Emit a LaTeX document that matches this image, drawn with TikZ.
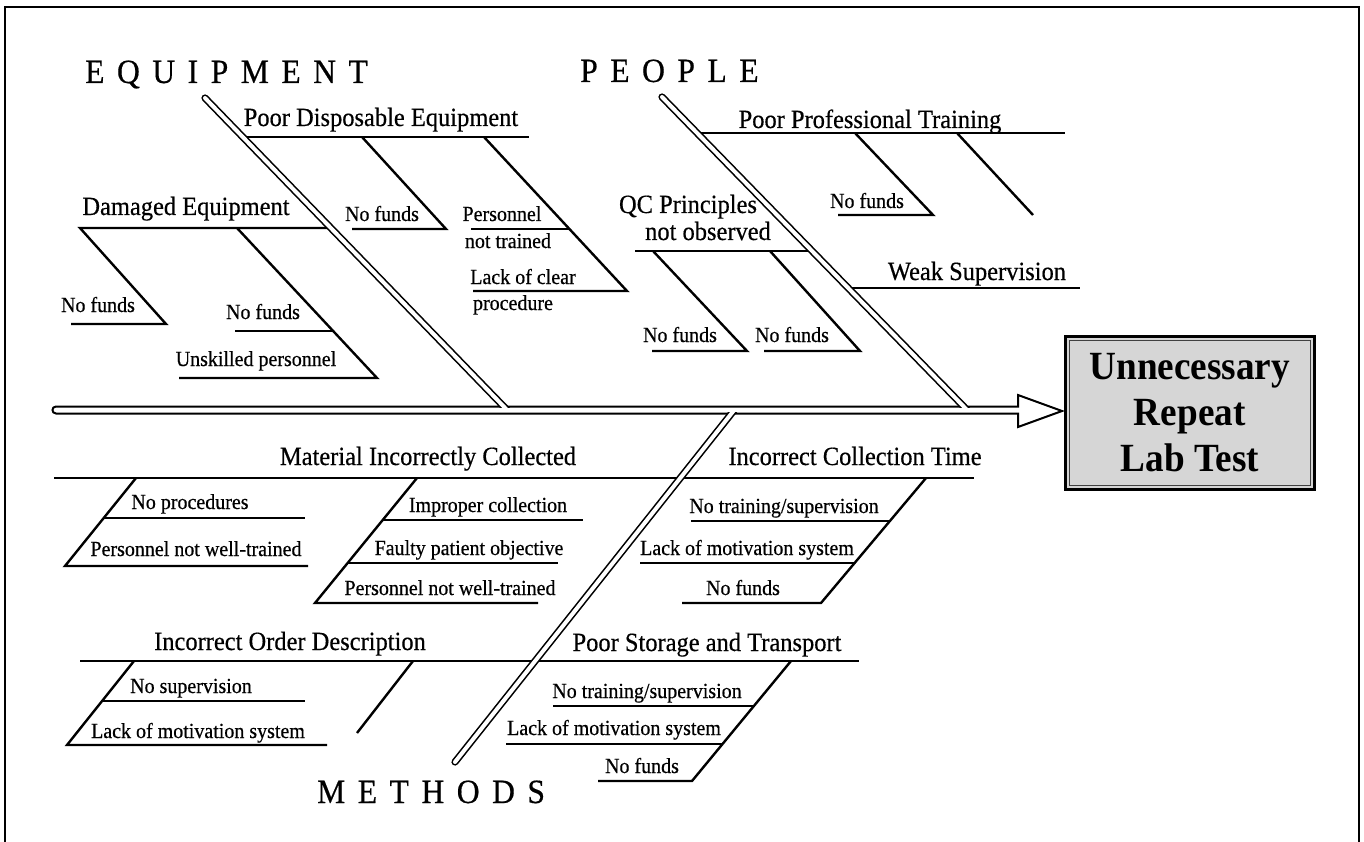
\documentclass[tikz,border=0pt]{standalone}
\usepackage{fontspec}
\setmainfont{Liberation Serif}[FakeStretch=0.93, UprightFeatures={FakeBold=0.5}]
\newcommand\lsp{\kern12.5pt}
\begin{document}
\begin{tikzpicture}[x=1pt,y=-1pt,
  bone/.style={draw, line width=1.6pt, double=white, double distance=4pt, line cap=round},
  twig/.style={line width=2.4pt},
  cat/.style={font=\fontsize{26.3}{31}\selectfont, inner sep=0pt, anchor=base},
  sub/.style={font=\fontsize{21.5}{26}\selectfont, inner sep=0pt, anchor=base},
  big/.style={font=\fontsize{34}{40}\selectfont, inner sep=0pt, anchor=base west}]
\useasboundingbox (0,0) rectangle (1364,842);

% frame
\draw[line width=2.5pt] (5,842) -- (5,7) -- (1359,7) -- (1359,842);

% --- equipment branches
\draw[twig] (243,137) -- (529,137);
\draw[twig] (362,137) -- (446,229) -- (352,229);
\draw[twig] (484,137) -- (627,291) -- (473,291);
\draw[twig] (471,229) -- (569,229);
\draw[twig] (331,228) -- (80,228) -- (166,324) -- (71,324);
\draw[twig] (237,228) -- (377,378) -- (179,378);
\draw[twig] (235,331) -- (333,331);

% --- people branches
\draw[twig] (697,133) -- (1065,133);
\draw[twig] (855,133) -- (933,215) -- (838,215);
\draw[twig] (957,133) -- (1033,215);
\draw[twig] (635,251) -- (812,251);
\draw[twig] (653,251) -- (747,351) -- (652,351);
\draw[twig] (770,251) -- (860,351) -- (764,351);
\draw[twig] (848,288) -- (1080,288);

% --- methods branches
\draw[twig] (54,478) -- (974,478);
\draw[twig] (136,478) -- (65,566) -- (308,566);
\draw[twig] (104,518) -- (305,518);
\draw[twig] (417,478) -- (315,603) -- (538,603);
\draw[twig] (383,520) -- (583,520);
\draw[twig] (348,563) -- (558,563);
\draw[twig] (926,478) -- (821,603) -- (682,603);
\draw[twig] (890,521) -- (691,521);
\draw[twig] (855,563) -- (640,563);
\draw[twig] (80,661) -- (859,661);
\draw[twig] (134,661) -- (67,745) -- (327,745);
\draw[twig] (102,701) -- (305,701);
\draw[twig] (413,661) -- (357,733);
\draw[twig] (791,661) -- (692,781) -- (598,781);
\draw[twig] (754,706) -- (553,706);
\draw[twig] (722,744) -- (506,744);

% --- spine with hollow arrow head
\draw[line width=2pt, fill=white, line join=miter]
  (1018,406.5) -- (1018,395) -- (1062,411) -- (1018,427) -- (1018,413.5)
  -- (56,413.5) .. controls (51.3,413.5) and (51.3,406.5) .. (56,406.5) -- cycle;

% --- main bones
\begin{scope}
  \clip (0,0) rectangle (1364,410);
  \draw[bone] (205,98) -- (510,413);
  \draw[bone] (662,97) -- (970,413);
\end{scope}
\begin{scope}
  \clip (0,410) rectangle (1364,842);
  \draw[bone] (455,762) -- (739,404);
\end{scope}
\fill[white] (56.5,407.6) rectangle (1016.9,412.4);

% --- category headings
\node[big] (equip) at (85,83) {E\lsp Q\lsp U\lsp I\lsp P\lsp M\lsp E\lsp N\lsp T};
\node[big] (people) at (580,82) {P\lsp E\lsp O\lsp P\lsp L\lsp E};
\node[big] (methods) at (317,803) {M\lsp E\lsp T\lsp H\lsp O\lsp D\lsp S};

% --- branch labels
\node[cat] (pde) at (381,126) {Poor Disposable Equipment};
\node[cat] (dam) at (186,215) {Damaged Equipment};
\node[cat] (ppt) at (870,128) {Poor Professional Training};
\node[cat] (qca) at (688,213) {QC Principles};
\node[cat] (qcb) at (708,240) {not observed};
\node[cat] (ws)  at (977,280) {Weak Supervision};
\node[cat] (mic) at (428,465) {Material Incorrectly Collected};
\node[cat] (ict) at (855,465) {Incorrect Collection Time};
\node[cat] (iod) at (290,650) {Incorrect Order Description};
\node[cat] (pst) at (707,651) {Poor Storage and Transport};

% --- cause labels
\node[sub] (pde1)  at (382,221) {No funds};
\node[sub] (pde2a) at (502,221) {Personnel};
\node[sub] (pde2b) at (508,248) {not trained};
\node[sub] (pde3a) at (523,284) {Lack of clear};
\node[sub] (pde3b) at (513,310) {procedure};
\node[sub] (dam1)  at (98,312) {No funds};
\node[sub] (dam2)  at (263,319) {No funds};
\node[sub] (dam3)  at (256,366) {Unskilled personnel};
\node[sub] (ppt1)  at (867,208) {No funds};
\node[sub] (qc1)   at (680,342) {No funds};
\node[sub] (qc2)   at (792,342) {No funds};
\node[sub] (mic1)  at (190,509) {No procedures};
\node[sub] (mic2)  at (196,556) {Personnel not well-trained};
\node[sub] (mic3)  at (488,512) {Improper collection};
\node[sub] (mic4)  at (469,555) {Faulty patient objective};
\node[sub] (mic5)  at (450,595) {Personnel not well-trained};
\node[sub] (iod1)  at (191,693) {No supervision};
\node[sub] (iod2)  at (198,738) {Lack of motivation system};
\node[sub] (ict1)  at (784,513) {No training/supervision};
\node[sub] (ict2)  at (747,555) {Lack of motivation system};
\node[sub] (ict3)  at (743,595) {No funds};
\node[sub] (pst1)  at (647,698) {No training/supervision};
\node[sub] (pst2)  at (614,735) {Lack of motivation system};
\node[sub] (pst3)  at (642,773) {No funds};

% --- effect box
\node[draw, line width=2.5pt, fill=gray!32, minimum width=249pt, minimum height=153pt,
      anchor=north west, inner sep=0pt, align=center,
      font=\bfseries\fontsize{40}{46}\selectfont] (effect) at (1064,335)
      {Unnecessary\\Repeat\\Lab Test};
\draw[line width=0.8pt, black!75]
  ([shift={(5pt,-5pt)}]effect.north west) rectangle ([shift={(-5pt,5pt)}]effect.south east);
\end{tikzpicture}
\end{document}
